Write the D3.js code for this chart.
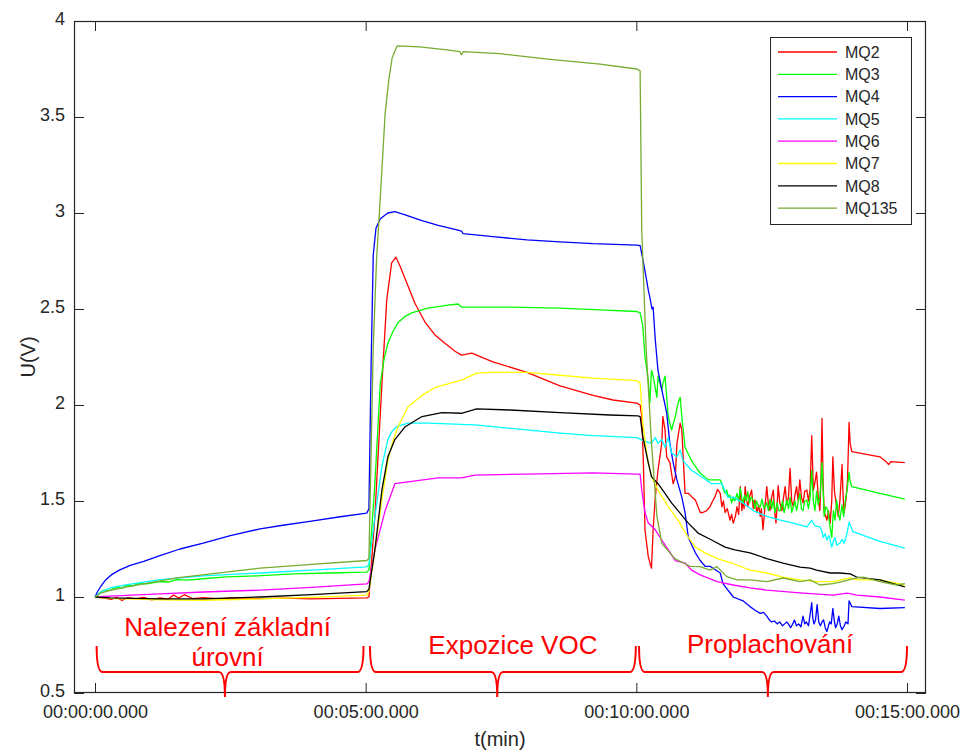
<!DOCTYPE html>
<html><head><meta charset="utf-8">
<script src="https://cdn.jsdelivr.net/npm/d3@7"></script>
<style>body{margin:0;background:#fff;} svg{display:block;font-family:"Liberation Sans",Arial,Helvetica,sans-serif;}</style>
</head><body><svg id="chart" width="967" height="751"></svg>
<script>
// ---- data (time in minutes, voltage in V) ----
const seriesNames = ["MQ2","MQ3","MQ4","MQ5","MQ6","MQ7","MQ8","MQ135"];
const seriesColors = ["#ff0000","#00ff00","#0000ff","#00ffff","#ff00ff","#ffff00","#000000","#77ac30"];

const mq2 = [[0,1.0],[0.15,0.995],[0.3,0.988],[0.4,0.998],[0.5,0.982],[0.6,0.996],[0.75,0.99],[0.9,0.998],[1.05,0.985],[1.2,0.995],[1.35,0.988],[1.45,1.01],[1.55,0.995],[1.65,1.012],[1.8,0.992],[2.0,0.997],[2.3,0.99],[2.6,0.996],[3.0,0.992],[3.5,0.994],[4.0,0.99],[4.5,0.993],[5.02,0.995],
 [5.06,1.0],[5.17,1.42],[5.30,2.11],[5.39,2.55],[5.48,2.74],[5.56,2.77],[5.64,2.72],[5.76,2.635],[5.91,2.53],[6.10,2.43],[6.28,2.365],[6.47,2.32],[6.65,2.28],[6.77,2.26],[6.96,2.27],[7.35,2.225],[7.98,2.17],[8.59,2.10],[9.20,2.05],[9.57,2.026],[10.01,2.01],[10.07,2.0],
 [10.10,1.94],[10.13,1.70],[10.16,1.35],[10.22,1.21],[10.28,1.15],[10.31,1.35],[10.35,1.52],[10.40,1.66],[10.47,1.80],[10.49,1.94],[10.53,1.87],[10.56,1.73],[10.62,1.70],[10.68,1.59],[10.72,1.625],[10.75,1.80],[10.81,1.906],[10.84,1.87],[10.90,1.54],[10.96,1.54],[11.03,1.52],[11.09,1.505],[11.14,1.47],[11.18,1.44],[11.23,1.44],[11.30,1.45],[11.36,1.47],[11.41,1.50],[11.45,1.52],[11.50,1.56],[11.55,1.54],[11.58,1.47],[11.61,1.50],[11.64,1.44],[11.68,1.46],[11.73,1.40],[11.76,1.43],[11.79,1.385],[11.83,1.42],[11.86,1.47],[11.89,1.43],[11.92,1.575],[11.95,1.45],[11.97,1.505],[11.99,1.46],[12.01,1.575],[12.04,1.50],[12.06,1.47],[12.09,1.52],[12.13,1.557],[12.16,1.46],[12.19,1.505],[12.23,1.44],[12.26,1.48],[12.29,1.42],[12.31,1.46],[12.34,1.35],[12.37,1.45],[12.41,1.575],[12.44,1.48],[12.47,1.45],[12.50,1.52],[12.53,1.557],[12.56,1.43],[12.58,1.385],[12.60,1.47],[12.62,1.58],[12.65,1.49],[12.69,1.45],[12.72,1.52],[12.75,1.575],[12.78,1.48],[12.81,1.52],[12.84,1.67],[12.87,1.50],[12.90,1.47],[12.93,1.53],[12.96,1.575],[12.99,1.50],[13.02,1.61],[13.05,1.52],[13.08,1.49],[13.11,1.55],[13.15,1.557],[13.18,1.50],[13.21,1.56],[13.24,1.84],[13.27,1.557],[13.30,1.60],[13.33,1.65],[13.36,1.52],[13.39,1.45],[13.41,1.60],[13.43,1.93],[13.45,1.60],[13.47,1.44],[13.50,1.42],[13.52,1.40],[13.55,1.45],[13.58,1.385],[13.61,1.50],[13.63,1.73],[13.66,1.55],[13.70,1.47],[13.73,1.42],[13.76,1.50],[13.80,1.69],[13.82,1.52],[13.84,1.44],[13.87,1.50],[13.90,1.60],[13.93,1.91],[13.95,1.80],[13.98,1.757],[14.50,1.73],[14.63,1.70],[14.66,1.69],[14.70,1.705],[14.96,1.70]];

const mq3 = [[0,1.0],[0.15,1.035],[0.28,1.036],[0.4,1.05],[0.5,1.045],[0.59,1.062],[0.7,1.058],[0.8,1.07],[0.95,1.068],[1.2,1.08],[1.35,1.078],[1.51,1.09],[1.7,1.088],[2.0,1.095],[2.43,1.105],[3.0,1.11],[3.66,1.12],[4.3,1.125],[5.02,1.13],
 [5.06,1.14],[5.17,1.59],[5.27,2.11],[5.34,2.24],[5.41,2.32],[5.50,2.38],[5.60,2.43],[5.72,2.46],[5.85,2.48],[6.15,2.505],[6.52,2.52],[6.71,2.526],[6.77,2.51],[7.67,2.51],[8.59,2.505],[9.33,2.495],[10.01,2.487],[10.07,2.48],
 [10.12,2.41],[10.16,2.25],[10.22,2.13],[10.25,2.01],[10.28,2.18],[10.31,2.15],[10.38,2.04],[10.40,2.15],[10.47,2.08],[10.49,2.11],[10.53,2.15],[10.59,1.94],[10.65,1.87],[10.72,1.94],[10.77,2.01],[10.81,2.04],[10.84,1.94],[10.90,1.78],[11.02,1.71],[11.14,1.66],[11.18,1.646],[11.33,1.61],[11.49,1.61],[11.55,1.61],[11.58,1.59],[11.61,1.56],[11.64,1.54],[11.67,1.557],[11.70,1.52],[11.73,1.53],[11.76,1.49],[11.79,1.52],[11.82,1.50],[11.86,1.54],[11.89,1.50],[11.92,1.567],[11.95,1.51],[11.97,1.49],[12.00,1.53],[12.03,1.50],[12.06,1.547],[12.09,1.49],[12.12,1.52],[12.16,1.505],[12.19,1.46],[12.22,1.50],[12.26,1.47],[12.29,1.47],[12.32,1.51],[12.36,1.46],[12.41,1.49],[12.44,1.45],[12.47,1.51],[12.50,1.46],[12.53,1.505],[12.56,1.44],[12.60,1.49],[12.63,1.45],[12.66,1.45],[12.70,1.50],[12.73,1.44],[12.78,1.505],[12.81,1.46],[12.84,1.52],[12.87,1.44],[12.90,1.47],[12.93,1.50],[12.96,1.45],[13.02,1.54],[13.05,1.46],[13.08,1.45],[13.11,1.50],[13.15,1.505],[13.18,1.46],[13.21,1.52],[13.24,1.66],[13.27,1.50],[13.30,1.45],[13.33,1.55],[13.36,1.48],[13.39,1.52],[13.43,1.70],[13.47,1.42],[13.50,1.47],[13.54,1.45],[13.57,1.38],[13.61,1.31],[13.64,1.45],[13.67,1.40],[13.70,1.505],[13.73,1.44],[13.76,1.40],[13.80,1.48],[13.83,1.42],[13.86,1.505],[13.89,1.55],[13.93,1.65],[13.95,1.60],[13.98,1.575],[14.50,1.54],[14.96,1.51]];

const mq4 = [[0,1.0],[0.05,1.03],[0.12,1.06],[0.2,1.09],[0.3,1.115],[0.45,1.14],[0.65,1.165],[0.9,1.185],[1.2,1.215],[1.57,1.25],[2.0,1.28],[2.5,1.32],[3.05,1.355],[3.5,1.375],[4.0,1.395],[4.53,1.418],[5.02,1.437],
 [5.06,1.46],[5.10,2.2],[5.14,2.78],[5.19,2.92],[5.27,2.97],[5.41,3.0],[5.54,3.007],[5.73,2.99],[6.04,2.96],[6.34,2.935],[6.65,2.915],[6.77,2.905],[6.80,2.893],[7.35,2.877],[7.98,2.86],[8.59,2.85],[9.20,2.84],[10.01,2.833],[10.07,2.83],
 [10.12,2.76],[10.19,2.65],[10.22,2.60],[10.25,2.56],[10.29,2.50],[10.31,2.51],[10.35,2.34],[10.40,2.18],[10.47,2.08],[10.56,1.96],[10.62,1.80],[10.68,1.70],[10.75,1.61],[10.84,1.52],[10.90,1.44],[10.96,1.31],[11.09,1.23],[11.18,1.19],[11.27,1.16],[11.36,1.16],[11.55,1.125],[11.60,1.07],[11.79,1.0],[11.97,0.98],[12.10,0.95],[12.20,0.93],[12.29,0.915],[12.35,0.92],[12.41,0.90],[12.46,0.88],[12.5,0.87],[12.55,0.875],[12.6,0.86],[12.65,0.87],[12.7,0.85],[12.74,0.86],[12.78,0.87],[12.82,0.855],[12.85,0.84],[12.89,0.86],[12.92,0.88],[12.96,0.85],[13.0,0.86],[13.04,0.845],[13.08,0.9],[13.11,0.86],[13.14,0.87],[13.18,0.85],[13.24,0.97],[13.26,0.89],[13.28,0.86],[13.31,0.88],[13.34,0.96],[13.37,0.87],[13.40,0.85],[13.43,0.87],[13.46,0.88],[13.49,0.84],[13.52,0.82],[13.55,0.85],[13.57,0.87],[13.60,0.86],[13.63,0.94],[13.66,0.87],[13.68,0.84],[13.71,0.86],[13.74,0.9],[13.77,0.85],[13.80,0.83],[13.84,0.85],[13.87,0.87],[13.91,0.86],[13.93,0.98],[13.98,0.95],[14.5,0.94],[14.96,0.945]];

const mq5 = [[0,1.0],[0.1,1.025],[0.28,1.047],[0.6,1.065],[1.2,1.09],[2.0,1.11],[3.05,1.125],[4.0,1.14],[5.02,1.157],
 [5.06,1.17],[5.17,1.418],[5.30,1.68],[5.41,1.82],[5.48,1.86],[5.57,1.887],[5.78,1.906],[6.15,1.906],[6.65,1.90],[7.02,1.896],[7.35,1.887],[7.98,1.87],[8.59,1.854],[9.20,1.84],[10.01,1.83],
 [10.16,1.81],[10.28,1.80],[10.35,1.83],[10.40,1.80],[10.47,1.82],[10.53,1.78],[10.59,1.83],[10.65,1.75],[10.75,1.73],[10.81,1.766],[10.86,1.71],[11.02,1.66],[11.21,1.625],[11.39,1.59],[11.58,1.59],[11.69,1.52],[11.79,1.52],[11.97,1.49],[12.16,1.45],[12.41,1.42],[12.66,1.40],[12.90,1.385],[13.15,1.365],[13.24,1.40],[13.30,1.37],[13.39,1.365],[13.43,1.34],[13.45,1.31],[13.49,1.33],[13.52,1.297],[13.56,1.32],[13.61,1.26],[13.64,1.29],[13.67,1.31],[13.70,1.27],[13.76,1.28],[13.80,1.30],[13.84,1.28],[13.89,1.33],[13.93,1.39],[14.00,1.34],[14.50,1.29],[14.96,1.255]];

const mq6 = [[0,1.0],[0.28,1.005],[1.2,1.016],[2.0,1.026],[3.05,1.036],[4.0,1.05],[5.02,1.068],
 [5.06,1.08],[5.17,1.245],[5.36,1.45],[5.54,1.59],[5.78,1.60],[6.34,1.62],[6.77,1.62],[7.02,1.635],[7.98,1.64],[9.20,1.646],[10.01,1.64],[10.07,1.64],
 [10.10,1.557],[10.16,1.44],[10.22,1.385],[10.35,1.35],[10.47,1.297],[10.59,1.245],[10.72,1.19],[10.90,1.177],[11.02,1.14],[11.18,1.115],[11.49,1.08],[11.79,1.0625],[12.1,1.047],[12.41,1.036],[13.02,1.022],[13.63,1.01],[13.9,1.02],[14.07,1.01],[14.50,1.0],[14.96,0.984]];

const mq7 = [[0,1.0],[0.28,0.993],[1.2,0.985],[2.0,0.983],[3.05,0.99],[4.0,0.998],[5.02,1.01],
 [5.06,1.03],[5.17,1.245],[5.30,1.505],[5.41,1.71],[5.50,1.81],[5.60,1.887],[5.78,1.99],[6.04,2.05],[6.28,2.09],[6.52,2.11],[6.77,2.13],[7.05,2.166],[7.35,2.17],[7.98,2.17],[8.59,2.155],[9.20,2.14],[10.01,2.127],[10.07,2.115],
 [10.12,1.906],[10.19,1.75],[10.22,1.70],[10.28,1.627],[10.40,1.557],[10.59,1.47],[10.77,1.40],[10.96,1.31],[11.09,1.26],[11.27,1.23],[11.50,1.20],[11.76,1.177],[12.10,1.14],[12.41,1.125],[12.71,1.104],[13.02,1.089],[13.33,1.08],[13.63,1.08],[13.95,1.10],[14.07,1.089],[14.50,1.089],[14.96,1.0625]];

const mq8 = [[0,1.0],[0.28,0.995],[1.2,0.99],[2.0,0.99],[3.05,1.0],[4.0,1.012],[5.02,1.028],
 [5.06,1.04],[5.17,1.245],[5.30,1.557],[5.41,1.73],[5.54,1.82],[5.73,1.887],[6.04,1.94],[6.41,1.96],[6.77,1.957],[7.05,1.98],[7.67,1.974],[8.59,1.96],[9.51,1.948],[10.03,1.943],[10.07,1.94],
 [10.12,1.835],[10.16,1.78],[10.22,1.70],[10.28,1.627],[10.40,1.59],[10.53,1.54],[10.65,1.49],[10.77,1.45],[10.96,1.385],[11.14,1.333],[11.39,1.297],[11.64,1.26],[11.82,1.245],[12.10,1.23],[12.41,1.20],[12.71,1.177],[13.02,1.156],[13.21,1.15],[13.33,1.14],[13.58,1.125],[13.76,1.125],[13.95,1.12],[14.07,1.104],[14.50,1.089],[14.96,1.053]];

const mq135 = [[0,1.0],[0.1,1.02],[0.28,1.035],[0.59,1.053],[1.51,1.10],[3.05,1.15],[4.0,1.17],[5.02,1.19],
 [5.06,1.2],[5.14,2.30],[5.20,2.75],[5.27,3.08],[5.36,3.52],[5.43,3.70],[5.49,3.81],[5.58,3.87],[6.0,3.865],[6.5,3.85],[6.74,3.84],[6.77,3.825],[6.80,3.84],[7.48,3.83],[8.41,3.80],[9.33,3.775],[10.01,3.75],[10.07,3.74],
 [10.10,2.91],[10.18,2.30],[10.28,1.80],[10.38,1.42],[10.47,1.28],[10.71,1.20],[10.99,1.16],[11.18,1.158],[11.36,1.14],[11.49,1.158],[11.67,1.106],[11.86,1.089],[12.10,1.089],[12.41,1.08],[12.71,1.099],[13.02,1.08],[13.21,1.089],[13.39,1.0625],[13.63,1.07],[13.80,1.08],[14.07,1.099],[14.19,1.104],[14.50,1.08],[14.81,1.0625],[14.96,1.07]];

const seriesData = [mq2, mq3, mq4, mq5, mq6, mq7, mq8, mq135];

const xTickValues = [0, 5, 10, 15];
const xTickLabels = ["00:00:00.000","00:05:00.000","00:10:00.000","00:15:00.000"];
const yTickValues = [0.5, 1, 1.5, 2, 2.5, 3, 3.5, 4];
const yTickLabels = ["0.5","1","1.5","2","2.5","3","3.5","4"];

const phaseLabels = [["Nalezení základní","úrovní"],["Expozice VOC"],["Proplachování"]];
const phaseLabelX = [2.45, 7.72, 12.47];
const phaseLabelV = [[0.797,0.641],[0.703],[0.708]];
const braceStart = [0.03, 5.08, 10.05];
const braceEnd = [4.96, 9.99, 15.0];
const braceTip = [2.40, 7.43, 12.43];
const braceLevels = {top:0.745, mid:0.609, tip:0.479};

// ---- chart ----
const svg = d3.select("#chart");
const L = 74, R = 926, T = 21, B = 693;
const x = d3.scaleLinear().domain([-0.388, 15.351]).range([L, R]);
const y = d3.scaleLinear().domain([0.5, 4]).range([B, T]);
const axisColor = "#262626";

svg.append("defs").append("clipPath").attr("id","clip")
  .append("rect").attr("x",L).attr("y",T).attr("width",R-L).attr("height",B-T);

const line = d3.line().x(d => x(d[0])).y(d => y(d[1]));
const gLines = svg.append("g").attr("clip-path","url(#clip)");
seriesData.forEach((s,i) => {
  gLines.append("path").datum(s).attr("d", line)
    .attr("fill","none").attr("stroke", seriesColors[i]).attr("stroke-width",1.3)
    .attr("stroke-linejoin","round");
});

function styleAxis(g){
  g.select(".domain").remove();
  g.selectAll(".tick line").attr("stroke",axisColor).attr("stroke-width",1);
  g.selectAll(".tick text").attr("fill",axisColor).attr("font-size",18)
   .attr("font-family",'"Liberation Sans",Arial,sans-serif');
}
svg.append("g").attr("transform",`translate(0,${B})`)
  .call(d3.axisBottom(x).tickValues(xTickValues).tickFormat((d,i)=>xTickLabels[i]).tickSizeInner(-10).tickSizeOuter(0).tickPadding(12))
  .call(styleAxis);
svg.append("g").attr("transform",`translate(0,${T})`)
  .call(d3.axisTop(x).tickValues(xTickValues).tickFormat("").tickSizeInner(-10).tickSizeOuter(0))
  .call(styleAxis);
const yAxisG = svg.append("g").attr("transform",`translate(${L},0)`)
  .call(d3.axisLeft(y).tickValues(yTickValues).tickFormat((d,i)=>yTickLabels[i]).tickSizeInner(-10).tickSizeOuter(0).tickPadding(9))
  .call(styleAxis);
yAxisG.selectAll(".tick text").attr("dy","0.22em");
svg.append("g").attr("transform",`translate(${R},0)`)
  .call(d3.axisRight(y).tickValues(yTickValues).tickFormat("").tickSizeInner(-10).tickSizeOuter(0))
  .call(styleAxis);

svg.append("rect").attr("x",L+0.5).attr("y",T+0.5).attr("width",R-L-1).attr("height",B-T-1)
  .attr("fill","none").attr("stroke",axisColor).attr("stroke-width",1.2);

// axis labels
svg.append("text").attr("x",(L+R)/2).attr("y",746).attr("text-anchor","middle")
  .attr("font-size",20).attr("fill",axisColor).text("t(min)");
svg.append("text").attr("transform",`translate(35,${(T+B)/2}) rotate(-90)`).attr("text-anchor","middle")
  .attr("font-size",20).attr("fill",axisColor).text("U(V)");

// phase braces and labels
const red = "#ff0000";
braceStart.forEach((s,i) => {
  const x1 = x(s), x2 = x(braceEnd[i]), xm = x(braceTip[i]);
  const yt = y(braceLevels.top), ym = y(braceLevels.mid), yp = y(braceLevels.tip);
  const r = 6;
  const p = d3.path();
  p.moveTo(x1, yt);
  p.quadraticCurveTo(x1, ym, x1 + r, ym);
  p.lineTo(xm - r, ym);
  p.quadraticCurveTo(xm, ym, xm, yp);
  p.quadraticCurveTo(xm, ym, xm + r, ym);
  p.lineTo(x2 - r, ym);
  p.quadraticCurveTo(x2, ym, x2, yt);
  svg.append("path").attr("d", p.toString()).attr("fill","none")
    .attr("stroke", red).attr("stroke-width", 2);
  phaseLabels[i].forEach((t,j) => {
    svg.append("text").attr("x", x(phaseLabelX[i])).attr("y", y(phaseLabelV[i][j]))
      .attr("text-anchor","middle").attr("font-size",26).attr("fill",red).text(t);
  });
});

// legend
const lg = svg.append("g");
lg.append("rect").attr("x",770.5).attr("y",37.5).attr("width",141).attr("height",187)
  .attr("fill","#fff").attr("stroke",axisColor).attr("stroke-width",1);
seriesNames.forEach((n,i) => {
  const yy = 52 + i*22.3;
  lg.append("line").attr("x1",778).attr("x2",837).attr("y1",yy).attr("y2",yy)
    .attr("stroke",seriesColors[i]).attr("stroke-width",1.3);
  lg.append("text").attr("x",845).attr("y",yy).attr("dy","0.36em")
    .attr("font-size",16).attr("fill",axisColor).text(n);
});
</script></body></html>
